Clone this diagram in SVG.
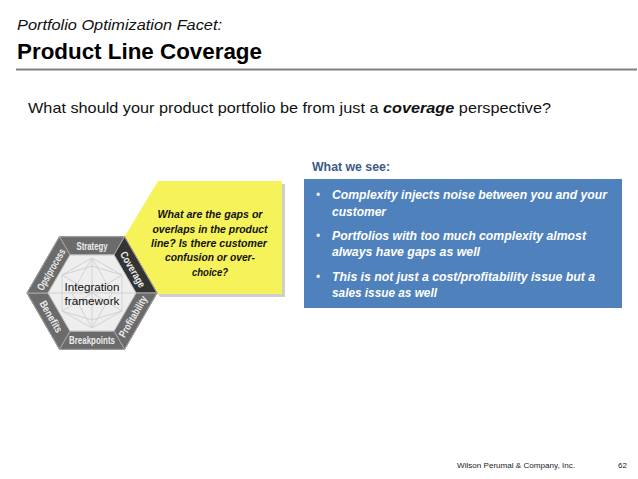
<svg xmlns="http://www.w3.org/2000/svg" width="638" height="479" viewBox="0 0 638 479">
<style>
.t{font-family:"Liberation Sans",Arial,sans-serif}
.seg{fill:#6b6b6b;stroke:#a8a8a8;stroke-width:1}
.lbl{font-family:"Liberation Sans",Arial,sans-serif;font-weight:bold;font-size:10.5px;fill:#ececec}
.wire{fill:none;stroke:#d2d2d2;stroke-width:1}
.y{font-family:"Liberation Sans",Arial,sans-serif;font-weight:bold;font-style:italic;font-size:11px;fill:#111}
.b{font-family:"Liberation Sans",Arial,sans-serif;font-weight:bold;font-style:italic;font-size:12px;fill:#ffffff}
.bul{font-family:"Liberation Sans",Arial,sans-serif;font-size:12px;fill:#e8eef7}
</style>
<rect width="638" height="479" fill="#ffffff"/>
<g id="title">
<text class="t" x="17" y="30" font-size="14" font-style="italic" fill="#111" textLength="205" lengthAdjust="spacingAndGlyphs">Portfolio Optimization Facet:</text>
<text class="t" x="17" y="59" font-size="22" font-weight="bold" fill="#000" textLength="245" lengthAdjust="spacingAndGlyphs">Product Line Coverage</text>
<line x1="16" y1="69.5" x2="637" y2="69.5" stroke="#808080" stroke-width="2"/>
</g>
<g id="subtitle">
<text class="t" x="28" y="113" font-size="15" fill="#111" textLength="523" lengthAdjust="spacingAndGlyphs">What should your product portfolio be from just a <tspan font-weight="bold" font-style="italic">coverage</tspan> perspective?</text>
</g>
<g id="callout">
<polygon points="161,184 285,184 285,297 160,297 127,240" fill="#b9b9b9" opacity="0.7"/>
<polygon points="158,181 282,181 282,294 157,294 124.5,236.7" fill="#f6f35a"/>
<text class="y" x="210" y="218" text-anchor="middle" textLength="105" lengthAdjust="spacingAndGlyphs">What are the gaps or</text>
<text class="y" x="210" y="233" text-anchor="middle" textLength="115" lengthAdjust="spacingAndGlyphs">overlaps in the product</text>
<text class="y" x="209" y="247" text-anchor="middle" textLength="116" lengthAdjust="spacingAndGlyphs">line?  Is there customer</text>
<text class="y" x="210" y="261" text-anchor="middle" textLength="90" lengthAdjust="spacingAndGlyphs">confusion or over-</text>
<text class="y" x="210" y="276" text-anchor="middle" textLength="36" lengthAdjust="spacingAndGlyphs">choice?</text>
</g>
<g id="hexagon">
<polygon points="157,293 124.5,349.3 59.5,349.3 27,293 59.5,236.7 124.5,236.7" fill="#5a5a5a" stroke="#4a4a4a" stroke-width="1"/>
<polygon class="seg" points="59.5,236.7 124.5,236.7 114,254.9 70,254.9"/>
<polygon class="seg" points="124.5,236.7 157,293 136,293 114,254.9" style="fill:#333333"/>
<polygon class="seg" points="157,293 124.5,349.3 114,331.1 136,293"/>
<polygon class="seg" points="124.5,349.3 59.5,349.3 70,331.1 114,331.1"/>
<polygon class="seg" points="59.5,349.3 27,293 48,293 70,331.1"/>
<polygon class="seg" points="27,293 59.5,236.7 70,254.9 48,293"/>
<polygon points="136,293 114,331.1 70,331.1 48,293 70,254.9 114,254.9" fill="#eeeeee" stroke="#bdbdbd" stroke-width="1"/>
<polygon class="wire" points="92,258 122,275 122,311 92,328 62,311 62,275"/>
<path class="wire" d="M92,258 L92,328 M92,258 L72,293 L92,328 L112,293 Z M62,275 L122,311 M122,275 L62,311 M62,275 L92,266 L122,275 M62,311 L92,320 L122,311 M72,293 L112,293 M48,293 L72,293 M112,293 L136,293"/>
<text class="t" x="92" y="291" font-size="11.5" fill="#111" text-anchor="middle" textLength="55" lengthAdjust="spacingAndGlyphs">Integration</text>
<text class="t" x="92" y="305" font-size="11.5" fill="#111" text-anchor="middle" textLength="55" lengthAdjust="spacingAndGlyphs">framework</text>
<text class="lbl" x="92" y="249.6" text-anchor="middle" textLength="31" lengthAdjust="spacingAndGlyphs">Strategy</text>
<text class="lbl" text-anchor="middle" textLength="40" lengthAdjust="spacingAndGlyphs" transform="translate(132.9,269.4) rotate(60)" y="3.7">Coverage</text>
<text class="lbl" text-anchor="middle" textLength="46" lengthAdjust="spacingAndGlyphs" transform="translate(132.9,316.6) rotate(-60)" y="3.7">Profitability</text>
<text class="lbl" x="92" y="343.9" text-anchor="middle" textLength="46" lengthAdjust="spacingAndGlyphs">Breakpoints</text>
<text class="lbl" text-anchor="middle" textLength="35" lengthAdjust="spacingAndGlyphs" transform="translate(51.1,316.6) rotate(60)" y="3.7">Benefits</text>
<text class="lbl" text-anchor="middle" textLength="46" lengthAdjust="spacingAndGlyphs" transform="translate(51.1,269.4) rotate(-60)" y="3.7">Ops/process</text>
</g>
<g id="what-we-see">
<text class="t" x="312" y="171" font-size="12" font-weight="bold" fill="#3b5b88" textLength="78" lengthAdjust="spacingAndGlyphs">What we see:</text>
<rect x="304" y="179" width="318" height="129" fill="#4f81bd"/>
<text class="bul" x="316" y="199">•</text>
<text class="b" x="332" y="199" textLength="275" lengthAdjust="spacingAndGlyphs">Complexity injects noise between you and your</text>
<text class="b" x="332" y="216" textLength="54" lengthAdjust="spacingAndGlyphs">customer</text>
<text class="bul" x="316" y="240">•</text>
<text class="b" x="332" y="240" textLength="254" lengthAdjust="spacingAndGlyphs">Portfolios with too much complexity almost</text>
<text class="b" x="332" y="256" textLength="148" lengthAdjust="spacingAndGlyphs">always have gaps as well</text>
<text class="bul" x="316" y="281">•</text>
<text class="b" x="332" y="281" textLength="263" lengthAdjust="spacingAndGlyphs">This is not just a cost/profitability issue but a</text>
<text class="b" x="332" y="297" textLength="105" lengthAdjust="spacingAndGlyphs">sales issue as well</text>
</g>
<g id="footer">
<text class="t" x="457" y="468" font-size="8" fill="#222" textLength="118" lengthAdjust="spacingAndGlyphs">Wilson Perumal &amp; Company, Inc.</text>
<text class="t" x="618" y="468" font-size="8" fill="#222">62</text>
</g>
</svg>
